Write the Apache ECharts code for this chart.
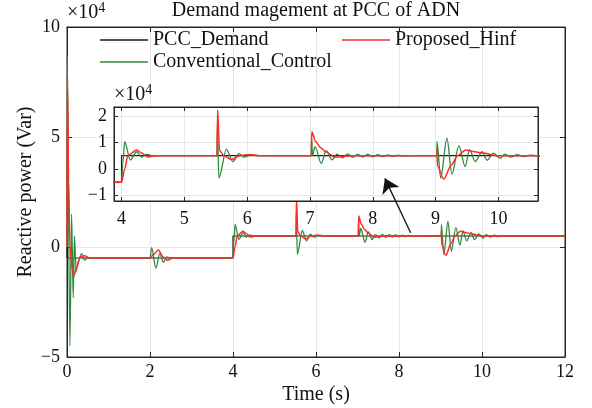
<!DOCTYPE html>
<html>
<head>
<meta charset="utf-8">
<script src="https://cdn.jsdelivr.net/npm/echarts@6/dist/echarts.min.js"></script>
<style>
  html, body { margin: 0; padding: 0; background: #fff; }
  #chart { width: 592px; height: 408px; }
</style>
</head>
<body>
<div id="chart"></div>
<script>
// values are in units of 1e4 Var
const pccTime = [0, 0, 4, 4, 12]
const pccDemand = [0, -0.5, -0.5, 0.5, 0.5]

const hinfTime = [0, 0.01, 0.04, 0.07, 0.12, 0.17, 0.24, 0.32, 0.42, 0.55,
  2.0, 2.08, 2.2, 2.32, 2.42, 2.55,
  4.0, 4.05, 4.1, 4.24, 4.32, 4.42, 4.55,
  5.52, 5.53, 5.56, 5.63, 5.75, 5.88, 6.04, 6.2,
  7.02, 7.03, 7.09, 7.17, 7.25, 7.33, 7.38, 7.5, 7.7,
  9.02, 9.022, 9.03, 9.13, 9.25, 9.35, 9.48, 9.6, 9.74, 10.0, 12]
const hinfValue = [0, 7.7, 3.0, 0.0, -1.0, -1.3, -0.9, -0.45, -0.4, -0.5,
  -0.5, -0.35, -0.14, -0.45, -0.6, -0.5,
  -0.5, 0.0, 0.5, 0.72, 0.6, 0.45, 0.5,
  0.5, 2.23, 0.7, 0.5, 0.36, 0.5, 0.55, 0.5,
  0.5, 1.41, 1.03, 0.8, 0.65, 0.55, 0.44, 0.47, 0.5,
  0.5, 0.72, 0.1, -0.38, 0.15, 0.5, 0.72, 0.66, 0.6, 0.5, 0.5]

const convTime = [0, 0.005, 0.07, 0.11, 0.15, 0.18, 0.22, 0.28, 0.35, 0.42, 0.5,
  2.0, 2.04, 2.14, 2.24, 2.32, 2.4, 2.48,
  4.0, 4.02, 4.05, 4.14, 4.24, 4.32, 4.4, 4.5,
  5.52, 5.525, 5.55, 5.67, 5.77, 5.87, 5.95, 6.05, 6.2,
  7.02, 7.025, 7.04, 7.08, 7.18, 7.26, 7.35, 7.43, 7.52, 7.6, 7.68, 7.76, 7.84, 7.92,
  8.0, 8.08, 8.16, 8.24, 8.32, 8.4, 8.5, 8.6,
  9.02, 9.022, 9.08, 9.18, 9.26, 9.37, 9.47, 9.54, 9.63, 9.74, 9.82, 9.92,
  10.03, 10.1, 10.2, 10.3, 10.4, 10.5, 10.6, 12]
const convValue = [0, 8.7, -4.5, 1.5, -2.3, 0.5, -1.1, -0.6, -0.3, -0.6, -0.5,
  -0.5, -0.03, -0.96, -0.28, -0.7, -0.45, -0.5,
  -0.5, 0.2, 1.03, 0.34, 0.65, 0.45, 0.55, 0.5,
  0.5, 1.6, -0.34, 0.75, 0.28, 0.58, 0.45, 0.52, 0.5,
  0.5, 1.15, 0.5, 0.84, 0.21, 0.69, 0.34, 0.56, 0.42, 0.57, 0.44, 0.56, 0.45, 0.55,
  0.46, 0.54, 0.47, 0.53, 0.48, 0.52, 0.49, 0.5,
  0.5, 1.03, -0.35, 1.16, -0.2, 0.88, 0.09, 0.73, 0.28, 0.65, 0.33, 0.6,
  0.4, 0.56, 0.45, 0.54, 0.47, 0.52, 0.5, 0.5]

// annotation arrow (data coords, from -> to)
const arrowFrom = [8.28, 0.65]
const arrowTo = [7.66, 3.12]

const font = "'Liberation Serif', 'Times New Roman', serif"
const ink = '#262626'
const red = '#ff2a2a'
const green = '#2e8b3e'

function zip(t, v) {
  return t.map((x, i) => [x, v[i]])
}
function minus(val) {
  return String(val).replace('-', '\u2212')
}

const chart = echarts.init(document.getElementById('chart'), null, {renderer: 'canvas'})

function valueAxis(opt) {
  return Object.assign({
    type: 'value',
    axisLine: {show: true, onZero: false, lineStyle: {color: ink, width: 1}},
    axisTick: {show: true, inside: true, length: 5, lineStyle: {color: ink}},
    axisLabel: {color: '#111', fontSize: 18, fontFamily: font, formatter: minus},
    splitLine: {show: true, lineStyle: {color: '#e6e6e6', width: 1}}
  }, opt)
}
function sideAxis(opt) {
  return Object.assign({
    type: 'value',
    axisLine: {show: true, onZero: false, lineStyle: {color: ink, width: 1}},
    axisTick: {show: true, inside: true, length: 5, lineStyle: {color: ink}},
    axisLabel: {show: false},
    splitLine: {show: false}
  }, opt)
}

const mainX = {min: 0, max: 12, interval: 2}
const mainY = {min: -5, max: 10, interval: 5}
const insetX = {min: 3.88, max: 10.63, splitNumber: 6}
const insetY = {min: -1.21, max: 2.34, splitNumber: 4}

function lineSeries(name, data, color, width, grid, z) {
  return {
    type: 'line',
    name: name,
    data: data,
    xAxisIndex: grid === 0 ? 0 : 2,
    yAxisIndex: grid === 0 ? 0 : 2,
    zlevel: grid,
    z: z,
    showSymbol: false,
    symbol: 'none',
    smooth: 0.3,
    smoothMonotone: 'x',
    lineStyle: {color: color, width: width},
    itemStyle: {color: color},
    animation: false
  }
}

const legendBase = {
  orient: 'horizontal',
  padding: 0,
  icon: 'rect',
  itemWidth: 48,
  itemHeight: 1.5,
  itemGap: 0,
  textStyle: {fontSize: 20, fontFamily: font, color: '#111'}
}

const nameStyle = {fontSize: 20, fontFamily: font, color: '#111'}
const richTimes = {
  a: {fontSize: 20, fontFamily: font, verticalAlign: 'bottom', lineHeight: 22},
  b: {fontSize: 14, fontFamily: font, verticalAlign: 'top'}
}

chart.setOption({
  animation: false,
  backgroundColor: '#fff',
  grid: [
    {left: 67, right: 27, top: 27, bottom: 51, show: true, borderColor: ink, borderWidth: 1, outerBoundsMode: 'none'},
    {left: 114, right: 54, top: 107, bottom: 207, show: true, backgroundColor: '#fff',
      borderColor: ink, borderWidth: 1, zlevel: 1, outerBoundsMode: 'none'}
  ],
  xAxis: [
    valueAxis(Object.assign({gridIndex: 0, position: 'bottom', name: 'Time (s)', nameLocation: 'middle', nameGap: 28,
      nameMoveOverlap: false, nameTextStyle: nameStyle}, mainX,
      {axisLabel: {color: '#111', fontSize: 18, fontFamily: font, margin: 6, formatter: minus}})),
    sideAxis(Object.assign({gridIndex: 0, position: 'top'}, mainX)),
    valueAxis(Object.assign({gridIndex: 1, position: 'bottom', zlevel: 1}, insetX,
      {axisTick: {show: true, inside: true, length: 4, lineStyle: {color: ink}},
       axisLabel: {color: '#111', fontSize: 18, fontFamily: font, margin: 9, showMinLabel: false, showMaxLabel: false}})),
    sideAxis(Object.assign({gridIndex: 1, position: 'top', zlevel: 1}, insetX,
      {axisTick: {show: true, inside: true, length: 4, lineStyle: {color: ink}}}))
  ],
  yAxis: [
    valueAxis(Object.assign({gridIndex: 0, position: 'left', name: 'Reactive power (Var)', nameLocation: 'middle', nameGap: 31,
      nameMoveOverlap: false, nameTextStyle: nameStyle}, mainY,
      {axisLabel: {color: '#111', fontSize: 18, fontFamily: font, margin: 7, formatter: minus}})),
    sideAxis(Object.assign({gridIndex: 0, position: 'right'}, mainY)),
    valueAxis(Object.assign({gridIndex: 1, position: 'left', zlevel: 1}, insetY,
      {axisTick: {show: true, inside: true, length: 4, lineStyle: {color: ink}},
       axisLabel: {color: '#111', fontSize: 18, fontFamily: font, margin: 7, showMinLabel: false, showMaxLabel: false, formatter: minus}})),
    sideAxis(Object.assign({gridIndex: 1, position: 'right', zlevel: 1}, insetY,
      {axisTick: {show: true, inside: true, length: 4, lineStyle: {color: ink}}}))
  ],
  legend: [
    Object.assign({left: 100, top: 30, data: ['PCC_Demand']}, legendBase),
    Object.assign({left: 342, top: 30, data: ['Proposed_Hinf']}, legendBase),
    Object.assign({left: 100, top: 52, data: ['Conventional_Control']}, legendBase)
  ],
  graphic: [
    {type: 'text', x: 316, y: 11, z: 10,
      style: {text: 'Demand magement at PCC of ADN', font: '20px ' + font, fill: '#111', align: 'center', verticalAlign: 'middle'}},
    {type: 'text', x: 67, y: 1, z: 10,
      style: {text: '{a|×10}{b|4}', fill: '#111', align: 'left', verticalAlign: 'top', rich: richTimes}},
    {type: 'text', x: 114, y: 83, z: 10, zlevel: 1,
      style: {text: '{a|×10}{b|4}', fill: '#111', align: 'left', verticalAlign: 'top', rich: richTimes}}
  ],
  series: [
    lineSeries('PCC_Demand', zip(pccTime, pccDemand), '#1a1a1a', 1.2, 0, 2),
    lineSeries('Conventional_Control', zip(convTime, convValue), green, 1.3, 0, 3),
    lineSeries('Proposed_Hinf', zip(hinfTime, hinfValue), red, 1.5, 0, 4),
    lineSeries('PCC_Demand', zip(pccTime, pccDemand), '#1a1a1a', 1.2, 1, 2),
    lineSeries('Conventional_Control', zip(convTime, convValue), green, 1.3, 1, 3),
    lineSeries('Proposed_Hinf', zip(hinfTime, hinfValue), red, 1.5, 1, 4),
    {
      type: 'lines',
      coordinateSystem: 'cartesian2d',
      xAxisIndex: 0,
      yAxisIndex: 0,
      zlevel: 1,
      z: 20,
      symbol: ['none', 'arrow'],
      symbolSize: [9, 14],
      lineStyle: {color: '#111', width: 1.3, opacity: 1},
      data: [{coords: [arrowFrom, arrowTo]}],
      animation: false,
      silent: true
    }
  ]
})
</script>
</body>
</html>
